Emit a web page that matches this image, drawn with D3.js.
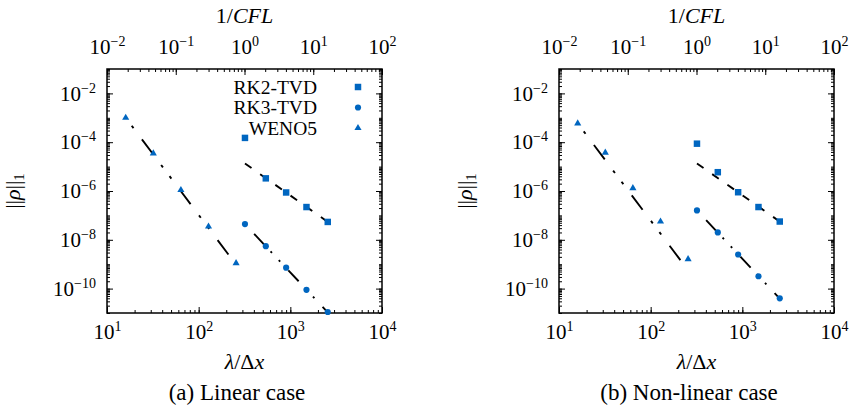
<!DOCTYPE html>
<html lang="en">
<head>
    <meta charset="UTF-8">
    <title>Convergence</title>
    <script src="https://cdn.jsdelivr.net/npm/d3@7"></script>
    <style>
        body {
            margin: 0;
            padding: 0;
            background: #fff;
        }

        svg text, svg tspan {
            font-family: "Liberation Serif", "Times New Roman", serif;
        }
    </style>
</head>
<body>
<svg width="850" height="413" id="mainsvg"></svg>
<script>
    // grid sizes lambda/dx
    const lambdaRK = [320, 540, 900, 1500, 2560];
    const lambdaWENO = [16, 32, 64, 128, 256];

    // linear case errors
    const linRK2 = [1.5e-4, 3.3e-6, 8.7e-7, 2.2e-7, 5.4e-8];
    const linRK3 = [4.4e-8, 5.5e-9, 7.2e-10, 8.9e-11, 1.1e-11];
    const linWENO5 = [1e-3, 3.5e-5, 1.1e-6, 3.5e-8, 1.1e-9];

    // non-linear case errors
    const nlRK2 = [8.7e-5, 5.9e-6, 8.9e-7, 2.2e-7, 5.6e-8];
    const nlRK3 = [1.6e-7, 2.0e-8, 2.5e-9, 3.2e-10, 4.0e-11];
    const nlWENO5 = [5.9e-4, 3.7e-5, 1.3e-6, 5.6e-8, 1.6e-9];

    // reference slope lines (start, end)
    const fitRKx = [320, 2560];
    const fitWENOx = [16, 256];
    const linFitRK2 = [1.35e-5, 5.4e-8];
    const linFitRK3 = [4.4e-8, 1.07e-11];
    const linFitWENO5 = [1e-3, 9.5e-10];
    const nlFitRK2 = [1.35e-5, 5.6e-8];
    const nlFitRK3 = [1.6e-7, 3.9e-11];
    const nlFitWENO5 = [5.9e-4, 5.6e-10];

    const seriesNames = ["RK2-TVD", "RK3-TVD", "WENO5"];
    const xTicks = [1e1, 1e2, 1e3, 1e4];
    const cflTicks = [1e-2, 1e-1, 1e0, 1e1, 1e2];
    const yTicks = [1e-10, 1e-8, 1e-6, 1e-4, 1e-2];
    const captions = ["(a) Linear case", "(b) Non-linear case"];

    const serif = "'Liberation Serif', 'Times New Roman', serif";
    const blue = "#0066c0";
    const W = 275, H = 244, topY = 69;
    const svg = d3.select("#mainsvg").style("font-family", serif);

    const symbols = [d3.symbolSquare, d3.symbolCircle, d3.symbolTriangle];
    const symSizes = [42, 30, 22];
    const dashes = [
        {dash: "8,10.6", off: 0},
        {dash: "15,9,2,10,2,12", off: 36.6},
        {dash: "18,14,3,11,3,14", off: 36}
    ];

    function powLabel(sel) {
        sel.each(function (d) {
            let e = Math.round(Math.log10(d));
            let t = d3.select(this).text(null).style("font-family", serif);
            t.append("tspan").text("10");
            t.append("tspan").attr("dy", -8).attr("font-size", 14)
                .text(e < 0 ? "\u2212" + (-e) : "" + e);
        });
    }

    function panel(left, errs, fits, caption, withLegend) {
        const g = svg.append("g").attr("transform", "translate(" + left + "," + topY + ")");
        const x = d3.scaleLog().domain([1e1, 1e4]).range([0, W]);
        const xc = d3.scaleLog().domain([1e-2, 1e2]).range([0, W]);
        const y = d3.scaleLog().domain([1e-11, 1e-1]).range([H, 0]);

        // minor ticks all round
        const minor = [
            [d3.axisBottom(x).tickValues(x.ticks()), "translate(0," + H + ")"],
            [d3.axisTop(xc).tickValues(xc.ticks()), "translate(0,0)"],
            [d3.axisLeft(y).tickValues(y.ticks(20)), "translate(0,0)"],
            [d3.axisRight(y).tickValues(y.ticks(20)), "translate(" + W + ",0)"]
        ];
        minor.forEach(m => {
            g.append("g").attr("transform", m[1])
                .call(m[0].tickSize(-3).tickFormat(""))
                .call(a => a.select(".domain").remove());
        });

        // major ticks with labels
        g.append("g").attr("transform", "translate(0," + H + ")")
            .call(d3.axisBottom(x).tickValues(xTicks).tickSizeInner(-6).tickSizeOuter(0).tickPadding(11))
            .attr("font-size", 21).attr("font-family", serif)
            .call(a => a.select(".domain").remove())
            .call(a => a.selectAll(".tick text").call(powLabel));
        g.append("g")
            .call(d3.axisTop(xc).tickValues(cflTicks).tickSizeInner(-6).tickSizeOuter(0).tickPadding(15))
            .attr("font-size", 21).attr("font-family", serif)
            .call(a => a.select(".domain").remove())
            .call(a => a.selectAll(".tick text").call(powLabel));
        g.append("g")
            .call(d3.axisLeft(y).tickValues(yTicks).tickSizeInner(-6).tickSizeOuter(0).tickPadding(11))
            .attr("font-size", 21).attr("font-family", serif)
            .call(a => a.select(".domain").remove())
            .call(a => a.selectAll(".tick text").call(powLabel));
        g.append("g").attr("transform", "translate(" + W + ",0)")
            .call(d3.axisRight(y).tickValues(yTicks).tickSizeInner(-6).tickSizeOuter(0).tickFormat(""))
            .call(a => a.select(".domain").remove());

        // frame
        g.append("rect")
            .attr("width", W).attr("height", H)
            .attr("fill", "none").attr("stroke", "#000").attr("stroke-width", 1.5);

        // reference lines
        const line = d3.line().x(d => x(d[0])).y(d => y(d[1]));
        fits.forEach((f, i) => {
            let xs = i < 2 ? fitRKx : fitWENOx;
            g.append("path")
                .attr("d", line([[xs[0], f[0]], [xs[1], f[1]]]))
                .attr("fill", "none")
                .attr("stroke", "#000")
                .attr("stroke-width", 1.9)
                .attr("stroke-dasharray", dashes[i].dash)
                .attr("stroke-dashoffset", dashes[i].off);
        });

        // points
        errs.forEach((s, i) => {
            let xs = i < 2 ? lambdaRK : lambdaWENO;
            g.append("g").selectAll("path")
                .data(s)
                .join("path")
                .attr("transform", (d, j) => "translate(" + x(xs[j]) + "," + y(d) + ")")
                .attr("d", d3.symbol().type(symbols[i]).size(symSizes[i]))
                .attr("fill", blue);
        });

        if (withLegend) {
            seriesNames.forEach((name, i) => {
                let ly = 18 + i * 20.5;
                g.append("text")
                    .attr("x", 210).attr("y", ly + 6.5)
                    .attr("text-anchor", "end")
                    .attr("font-size", 19.5)
                    .text(name);
                g.append("path")
                    .attr("transform", "translate(251," + ly + ")")
                    .attr("d", d3.symbol().type(symbols[i]).size(symSizes[i]))
                    .attr("fill", blue);
            });
        }

        // axis titles
        const bx = left + W / 2;
        let t = svg.append("text").attr("x", bx).attr("y", 23)
            .attr("text-anchor", "middle").attr("font-size", 22);
        t.append("tspan").text("1/");
        t.append("tspan").attr("font-style", "italic").text("CFL");

        t = svg.append("text").attr("x", bx).attr("y", 369)
            .attr("text-anchor", "middle").attr("font-size", 22);
        t.append("tspan").attr("font-style", "italic").text("\u03bb");
        t.append("tspan").text("/\u0394");
        t.append("tspan").attr("font-style", "italic").text("x");

        t = svg.append("text")
            .attr("transform", "translate(" + (left - 87) + ",191) rotate(-90)")
            .attr("text-anchor", "middle").attr("font-size", 22);
        t.append("tspan").text("||");
        t.append("tspan").attr("font-style", "italic").text("\u03c1");
        t.append("tspan").text("||");
        t.append("tspan").attr("dy", 4).attr("font-size", 15).text("1");

        svg.append("text").attr("x", left + 130).attr("y", 400)
            .attr("text-anchor", "middle").attr("font-size", 23)
            .text(caption);
    }

    panel(107, [linRK2, linRK3, linWENO5], [linFitRK2, linFitRK3, linFitWENO5], captions[0], true);
    panel(559, [nlRK2, nlRK3, nlWENO5], [nlFitRK2, nlFitRK3, nlFitWENO5], captions[1], false);
</script>
</body>
</html>
